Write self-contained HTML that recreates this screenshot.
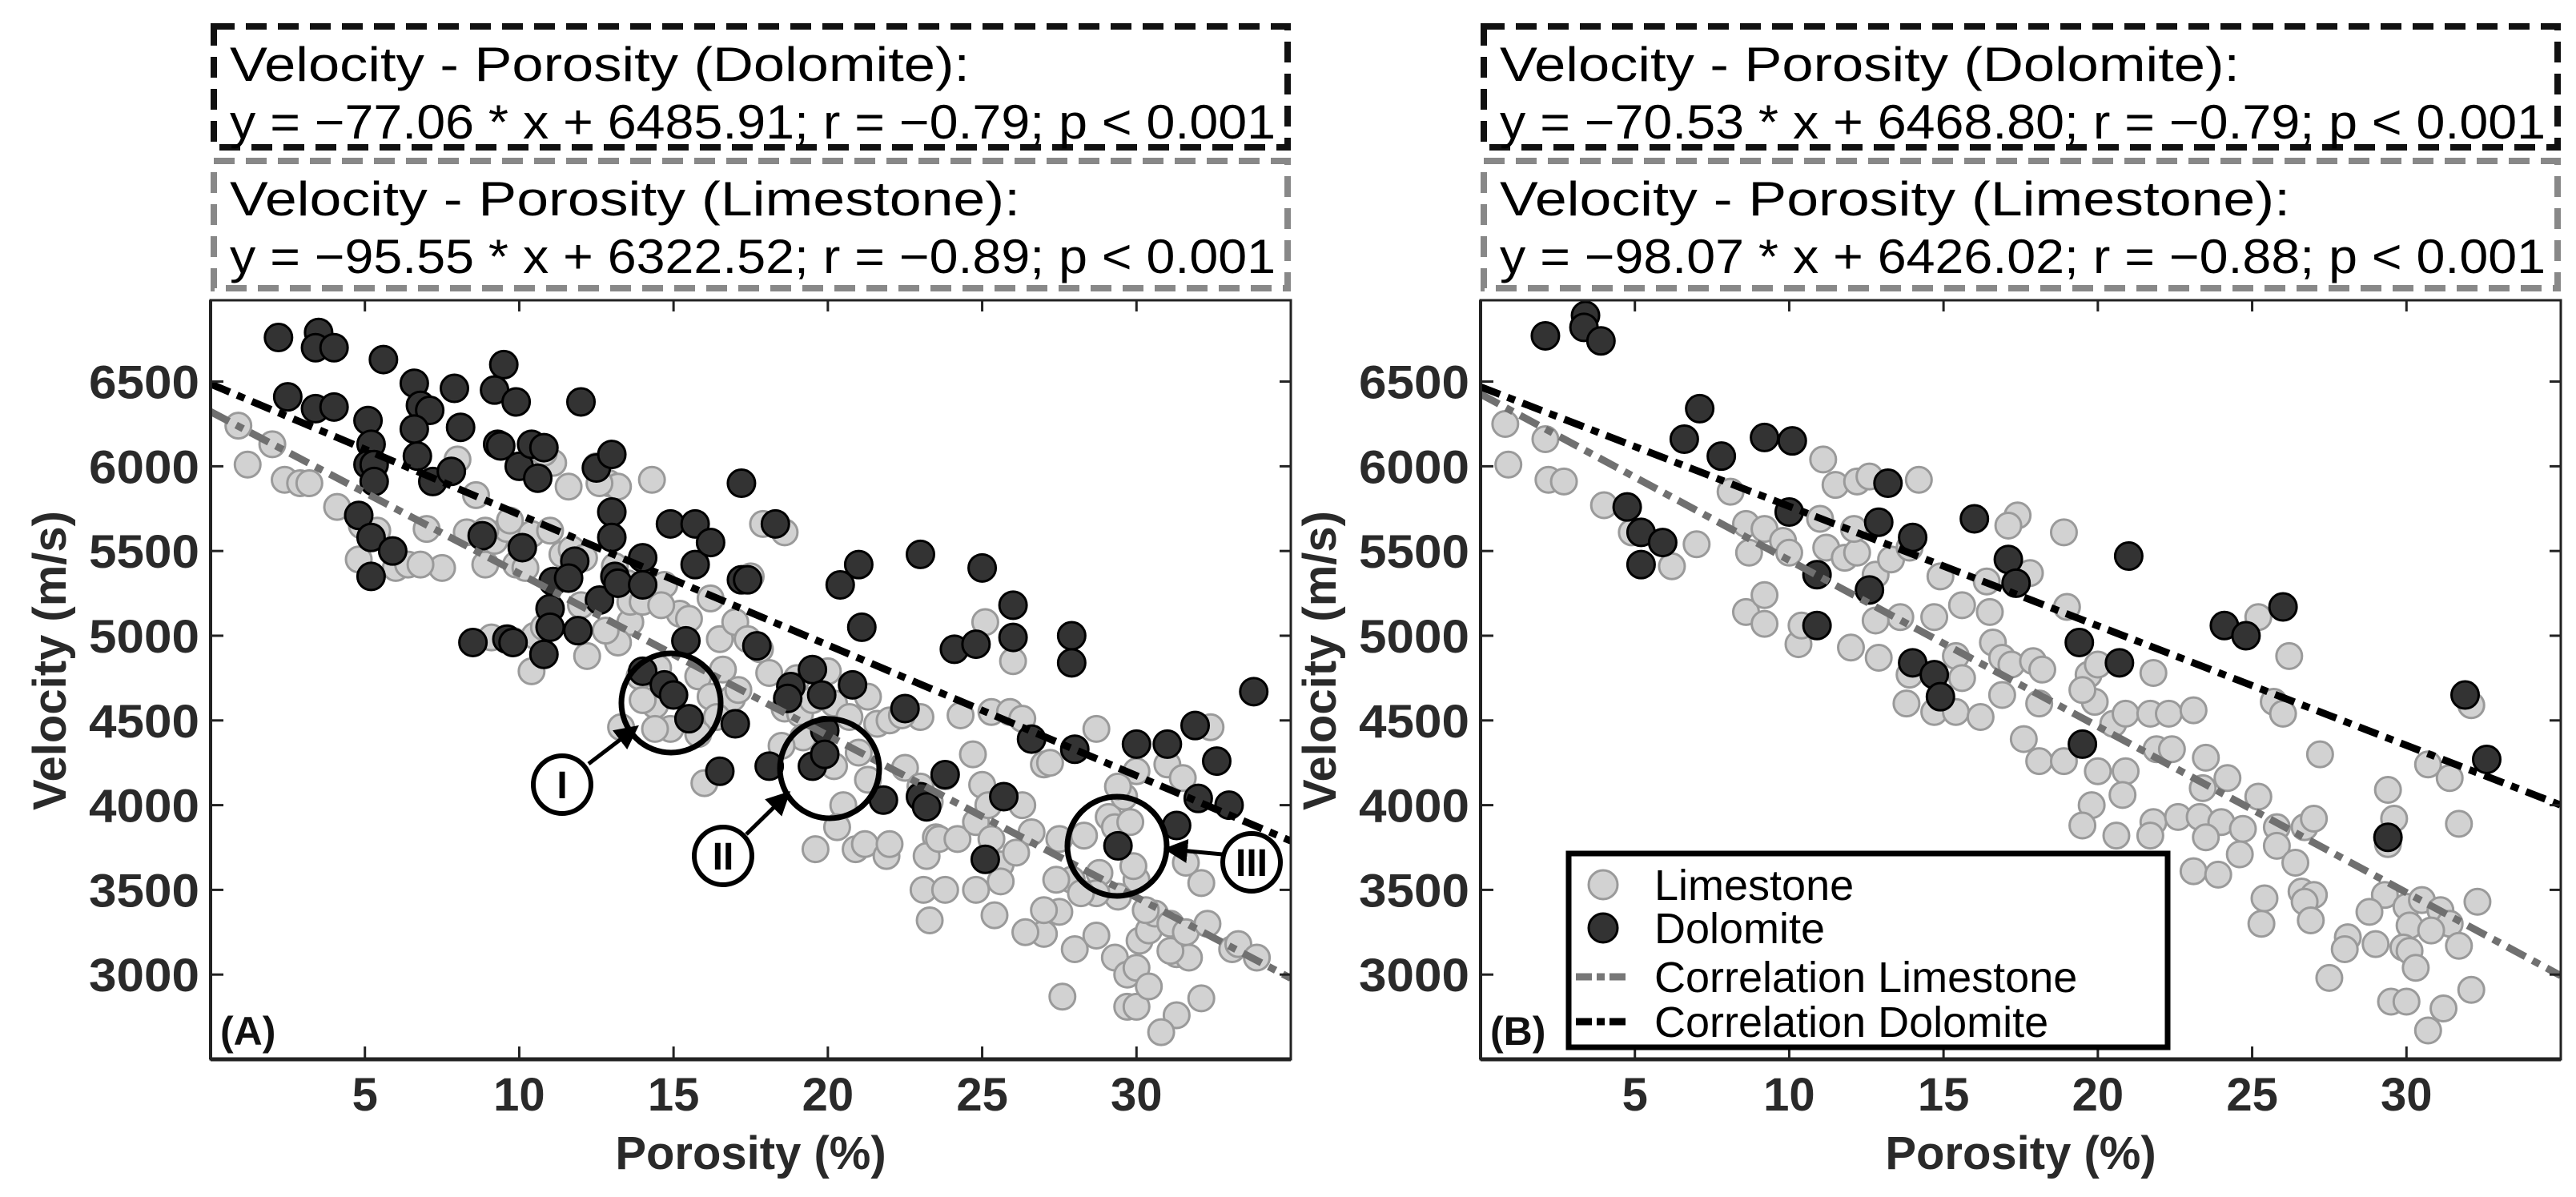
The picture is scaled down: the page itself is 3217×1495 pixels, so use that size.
<!DOCTYPE html>
<html><head><meta charset="utf-8"><style>
html,body{margin:0;padding:0;background:#fff;}
svg{display:block;font-family:"Liberation Sans",Arial,sans-serif;}
</style></head><body>
<svg id="fig" width="3217" height="1495" viewBox="0 0 3217 1495" xmlns="http://www.w3.org/2000/svg"></svg>
<script>
// ---------- DATA ----------
const xTicks = [5,10,15,20,25,30];
const yTicks = [3000,3500,4000,4500,5000,5500,6000,6500];
const fitA = {dolSlope:-77.06, dolInt:6485.91, limSlope:-95.55, limInt:6322.52};
const fitB = {dolSlope:-70.53, dolInt:6468.80, limSlope:-98.07, limInt:6426.02};
const textA = ["Velocity - Porosity (Dolomite):","y = \u221277.06 * x + 6485.91; r = \u22120.79; p < 0.001","Velocity - Porosity (Limestone):","y = \u221295.55 * x + 6322.52; r = \u22120.89; p < 0.001"];
const textB = ["Velocity - Porosity (Dolomite):","y = \u221270.53 * x + 6468.80; r = \u22120.79; p < 0.001","Velocity - Porosity (Limestone):","y = \u221298.07 * x + 6426.02; r = \u22120.88; p < 0.001"];

const dolA = [[2.2,6760],[3.5,6790],[3.4,6700],[4.0,6700],[2.5,6410],[3.4,6340],[4.0,6350],[5.6,6630],[5.1,6270],[5.2,6130],[5.1,6010],[5.3,6010],[5.3,5910],[4.8,5710],[5.2,5580],[5.2,5350],[5.9,5500],[6.6,6490],[6.8,6360],[7.1,6330],[6.6,6220],[6.7,6060],[7.2,5910],[7.9,6460],[8.1,6230],[7.8,5970],[9.5,6600],[9.2,6450],[9.3,6130],[9.9,6380],[10.0,6000],[10.4,6130],[10.8,6110],[10.6,5930],[9.4,6120],[8.8,5590],[10.1,5520],[8.5,4960],[9.6,4980],[9.8,4960],[10.8,4890],[11.1,5320],[11.0,5160],[11.0,5050],[11.8,5440],[11.6,5340],[11.9,5030],[12.0,6380],[12.5,5990],[13.0,6070],[13.0,5730],[13.0,5580],[13.1,5350],[12.6,5210],[13.2,5310],[14.0,5460],[14.0,5300],[14.0,4790],[14.9,5660],[15.7,5660],[15.7,5420],[16.2,5550],[14.7,4710],[15.0,4650],[15.4,4970],[15.5,4510],[17.2,5900],[17.2,5330],[17.4,5330],[17.7,4940],[18.3,5660],[16.5,4200],[17.0,4480],[18.1,4230],[19.5,4800],[19.5,4230],[19.8,4650],[19.9,4440],[19.9,4300],[18.8,4700],[18.7,4630],[20.8,4710],[20.4,5300],[21.0,5420],[21.1,5050],[22.5,4570],[21.8,4030],[23.0,5480],[23.0,4050],[23.8,4180],[24.1,4920],[24.8,4950],[25.0,5400],[26.0,5180],[26.0,4990],[25.7,4050],[25.1,3680],[26.6,4390],[27.9,5000],[27.9,4840],[28.0,4330],[30.0,4360],[31.0,4360],[31.9,4470],[32.0,4040],[32.6,4260],[33.0,4000],[33.8,4670],[31.3,3880],[29.4,3760],[23.2,3990]];
const limA = [[0.9,6240],[1.2,6010],[2.0,6130],[2.4,5920],[2.9,5900],[3.2,5900],[4.1,5760],[4.9,5650],[4.8,5450],[6.0,5400],[5.4,5620],[6.4,5420],[7.0,5630],[7.5,5400],[8.3,5610],[8.9,5420],[9.2,5560],[8.0,6040],[8.6,5830],[9.6,5630],[9.9,5420],[9.7,5680],[10.2,5400],[10.4,5600],[10.5,5000],[10.4,4790],[9.8,4970],[11.0,5620],[11.4,5480],[11.7,5510],[12.1,5460],[12.0,5180],[12.2,4880],[11.6,5880],[12.9,5900],[13.2,5880],[12.6,5900],[14.3,5920],[12.5,6000],[11.1,6020],[10.8,6080],[13.5,5310],[13.1,5410],[13.6,5080],[13.6,5200],[13.2,4960],[12.8,5030],[13.9,4760],[14.4,4590],[14.5,4810],[14.0,5200],[14.7,5300],[15.2,5130],[15.5,5100],[16.2,5220],[16.5,4980],[17.0,5080],[16.6,4800],[15.8,4760],[16.2,4640],[16.9,4630],[16.4,4520],[15.8,4420],[14.9,4450],[14.4,4450],[17.1,4680],[17.4,4980],[17.8,4920],[18.1,4780],[18.6,4570],[19.1,4540],[19.5,4620],[20.2,4600],[20.0,4790],[19.0,4750],[20.7,4520],[21.0,4310],[21.3,4640],[21.6,4480],[22.0,4500],[21.3,4150],[20.5,4000],[20.3,3870],[19.6,3740],[20.9,3740],[21.2,3770],[21.9,3700],[22.0,3770],[22.5,4220],[23.0,4110],[23.3,4020],[23.5,3810],[23.2,3700],[23.6,3800],[23.8,4170],[24.2,3800],[24.8,3900],[25.0,4120],[25.2,4000],[25.3,3800],[25.6,3650],[24.8,3500],[23.1,3500],[23.3,3320],[23.8,3500],[25.4,3350],[25.6,3550],[26.1,3720],[26.3,4000],[26.6,3840],[25.3,4550],[25.9,4550],[26.3,4510],[27.0,4240],[27.2,4250],[26.0,4850],[24.7,4300],[25.1,5080],[27.5,3800],[27.9,3560],[28.3,3820],[28.8,3600],[29.1,3930],[29.3,3870],[29.6,4050],[29.8,3900],[30.0,3560],[29.9,3640],[29.4,3460],[28.7,3480],[28.2,3480],[27.4,3560],[27.0,3240],[27.5,3370],[27.0,3380],[26.4,3250],[28.0,3150],[28.7,3230],[29.3,3100],[29.7,3000],[30.0,3040],[30.1,3200],[30.4,3260],[30.6,3360],[31.1,3300],[30.3,3380],[31.3,3120],[31.7,3100],[31.1,3140],[31.6,3250],[32.1,3540],[32.3,3300],[33.1,3150],[33.3,3180],[33.9,3100],[32.1,2860],[31.3,2760],[30.8,2660],[29.7,2810],[30.0,2810],[30.4,2930],[27.6,2870],[30.0,4200],[31.0,4240],[31.5,4160],[31.6,3660],[32.4,4460],[29.4,4110],[28.7,4450],[24.3,4530],[23.0,4520],[22.4,4530],[20.2,4230],[19.2,4400],[18.5,4350],[18.1,4230],[14.6,5180],[13.3,4460],[14.0,4620],[16.0,4130],[17.9,5660],[18.6,5610],[17.5,5350],[10.8,5050],[9.1,4990],[8.9,5620],[6.8,5420]];
const dolB = [[2.1,6770],[3.4,6890],[3.35,6820],[3.9,6740],[7.1,6340],[6.6,6160],[7.8,6060],[9.2,6170],[10.1,6150],[13.2,5900],[4.75,5760],[5.2,5610],[5.9,5550],[5.2,5420],[10.0,5730],[12.9,5670],[14.0,5580],[16.0,5690],[17.1,5450],[17.35,5310],[10.9,5360],[12.6,5270],[21.0,5470],[10.9,5060],[19.4,4960],[20.7,4840],[14.0,4840],[14.7,4770],[14.9,4640],[19.5,4360],[24.1,5060],[24.8,5000],[26.0,5170],[31.9,4650],[32.6,4270],[29.4,3810]];
const limB = [[0.8,6250],[0.9,6010],[2.1,6160],[2.2,5920],[2.7,5910],[4.0,5770],[4.9,5610],[6.2,5410],[7.0,5540],[8.7,5490],[8.6,5140],[9.2,5070],[9.2,5240],[10.3,4950],[10.4,5060],[11.1,6040],[11.5,5890],[12.2,5910],[12.6,5940],[14.2,5920],[8.1,5850],[8.6,5660],[9.2,5630],[9.8,5560],[10.0,5490],[11.0,5690],[11.2,5520],[11.8,5460],[12.2,5490],[12.8,5360],[13.3,5450],[13.9,5520],[12.1,5630],[14.9,5350],[16.4,5320],[15.6,5180],[16.5,5140],[14.7,5110],[13.6,5110],[12.8,5090],[12.9,4870],[12.0,4930],[13.9,4770],[13.8,4600],[14.7,4550],[15.4,4550],[16.2,4520],[15.4,4880],[15.6,4750],[16.6,4960],[16.9,4870],[16.9,4650],[17.2,4830],[18.1,4600],[17.9,4850],[18.2,4800],[17.4,5710],[17.1,5650],[18.9,5610],[17.8,5370],[19.0,5170],[19.7,4770],[19.9,4610],[20.5,4480],[20.9,4540],[21.7,4540],[22.3,4540],[21.8,4780],[23.1,4560],[19.5,4680],[20.0,4830],[17.6,4390],[18.1,4260],[18.9,4260],[20.0,4200],[20.9,4200],[21.9,4330],[22.4,4330],[23.5,4280],[24.2,4160],[23.4,4100],[20.8,4060],[19.8,4000],[19.5,3880],[20.6,3820],[21.8,3900],[21.7,3820],[22.6,3930],[23.3,3930],[24.0,3900],[23.5,3810],[24.7,3860],[24.6,3710],[25.2,4050],[25.8,3870],[25.8,3760],[26.4,3660],[26.7,3870],[27.0,3920],[23.1,3610],[23.9,3590],[26.2,4880],[25.2,5110],[27.2,4300],[25.7,4610],[26.0,4540],[25.4,3450],[25.3,3300],[26.6,3490],[27.0,3470],[26.7,3430],[26.9,3320],[28.1,3220],[28.0,3150],[29.0,3180],[27.5,2980],[29.3,3470],[28.8,3370],[30.0,3400],[30.5,3440],[31.1,3380],[31.4,3300],[30.1,3290],[30.8,3260],[29.9,3160],[30.1,3140],[30.3,3040],[31.7,3170],[32.3,3430],[29.5,2840],[30.0,2840],[31.2,2800],[32.1,2910],[30.7,2670],[29.4,4090],[29.6,3920],[29.4,3770],[30.7,4240],[31.4,4160],[31.7,3890],[32.1,4590]];

// ---------- DRAW ----------
const NS = "http://www.w3.org/2000/svg";
const svg = document.getElementById('fig');
function mk(tag, attrs, parent){ const e=document.createElementNS(NS,tag); for(const k in attrs) e.setAttribute(k,attrs[k]); (parent||svg).appendChild(e); return e; }

const X0=0, X1=35, Y0=2500, Y1=6980;
const TOP=375, BOT=1323;

function panel(id, L, R, dol, lim, fit, texts, letter, withLegend){
  const g = mk('g',{});
  
  
  const sx = v => L + (v-X0)/(X1-X0)*(R-L);
  const sy = v => BOT - (v-Y0)/(Y1-Y0)*(BOT-TOP);

  const boxes = [[29,188,'#111',texts[0],texts[1],924,'dolomite-equation-box'],[197,364,'#888',texts[2],texts[3],987,'limestone-equation-box']];
  boxes.forEach(b=>{
    const bg = mk('g',{},g);
    
    
    mk('rect',{x:L+4,y:b[0]+4,width:R-L-8,height:b[1]-b[0]-8,fill:'none',stroke:b[2],'stroke-width':8,'stroke-dasharray':'26,14'},bg);
    const t1 = mk('text',{x:L+24,y:b[0]+72,'font-size':60,fill:'#000',textLength:b[5],lengthAdjust:'spacingAndGlyphs'},bg);
    t1.textContent=b[3];
    const t2 = mk('text',{x:L+24,y:b[0]+144,'font-size':60,fill:'#000',textLength:1306,lengthAdjust:'spacingAndGlyphs'},bg);
    t2.textContent=b[4];
  });

  const cp = mk('clipPath',{id:'clip'+id},g);
  mk('rect',{x:L,y:TOP,width:R-L,height:BOT-TOP},cp);
  const pg = mk('g',{'clip-path':'url(#clip'+id+')'},g);

  lim.forEach(p=>{
    const c = mk('circle',{cx:sx(p[0]),cy:sy(p[1]),r:16,fill:'#d2d2d2',stroke:'#9a9a9a','stroke-width':3},pg);
    
    
  });
  dol.forEach(p=>{
    const c = mk('circle',{cx:sx(p[0]),cy:sy(p[1]),r:17,fill:'#333',stroke:'#000','stroke-width':3},pg);
    
    
  });
  const ll = mk('line',{x1:sx(X0),y1:sy(fit.limInt+fit.limSlope*X0),x2:sx(X1),y2:sy(fit.limInt+fit.limSlope*X1),stroke:'#707070','stroke-width':9,'stroke-dasharray':'26,10,10,10'},pg);
  
  
  const dl = mk('line',{x1:sx(X0),y1:sy(fit.dolInt+fit.dolSlope*X0),x2:sx(X1),y2:sy(fit.dolInt+fit.dolSlope*X1),stroke:'#000','stroke-width':9,'stroke-dasharray':'26,10,10,10'},pg);
  
  

  const fr = mk('rect',{x:L,y:TOP,width:R-L,height:BOT-TOP,fill:'none',stroke:'#222','stroke-width':3},g);
  
  
  mk('line',{x1:L,y1:BOT,x2:R,y2:BOT,stroke:'#222','stroke-width':5},g);
  mk('line',{x1:L,y1:TOP,x2:L,y2:BOT,stroke:'#222','stroke-width':4},g);

  xTicks.forEach(v=>{
    mk('line',{x1:sx(v),y1:BOT,x2:sx(v),y2:BOT-16,stroke:'#222','stroke-width':3},g);
    mk('line',{x1:sx(v),y1:TOP,x2:sx(v),y2:TOP+14,stroke:'#222','stroke-width':3},g);
    const t = mk('text',{x:sx(v),y:1387,'font-size':58,'font-weight':'bold','text-anchor':'middle',fill:'#2a2a2a'},g);
    
    
    t.textContent=v;
  });
  yTicks.forEach(v=>{
    mk('line',{x1:L,y1:sy(v),x2:L+16,y2:sy(v),stroke:'#222','stroke-width':3},g);
    mk('line',{x1:R,y1:sy(v),x2:R-14,y2:sy(v),stroke:'#222','stroke-width':3},g);
    const t = mk('text',{x:L-14,y:sy(v)+21,'font-size':58,'font-weight':'bold','text-anchor':'end',fill:'#2a2a2a',textLength:138,lengthAdjust:'spacingAndGlyphs'},g);
    
    
    t.textContent=v;
  });
  const xt = mk('text',{x:(L+R)/2,y:1460,'font-size':58,'font-weight':'bold','text-anchor':'middle',fill:'#2a2a2a'},g);
  
  
  xt.textContent='Porosity (%)';
  const yt = mk('text',{x:0,y:0,'font-size':58,'font-weight':'bold','text-anchor':'middle',fill:'#2a2a2a',transform:'translate('+(L-181)+',825) rotate(-90)'},g);
  
  
  yt.textContent='Velocity (m/s)';
  const pl = mk('text',{x:L+12,y:1305,'font-size':50,'font-weight':'bold',fill:'#111'},g);
  
  
  pl.textContent=letter;

  if(withLegend){
    const lg = mk('g',{},g);
    
    
    mk('rect',{x:1959,y:1066,width:748,height:242,fill:'#fff',stroke:'#000','stroke-width':7},lg);
    const rows=[1105,1159,1220,1276];
    const names=['Limestone','Dolomite','Correlation Limestone','Correlation Dolomite'];
    mk('circle',{cx:2002,cy:rows[0],r:18,fill:'#d2d2d2',stroke:'#9a9a9a','stroke-width':3},lg);
    mk('circle',{cx:2002,cy:rows[1],r:18,fill:'#333',stroke:'#000','stroke-width':3},lg);
    mk('line',{x1:1968,y1:rows[2],x2:2033,y2:rows[2],stroke:'#777','stroke-width':9,'stroke-dasharray':'20,6,10,6'},lg);
    mk('line',{x1:1968,y1:rows[3],x2:2033,y2:rows[3],stroke:'#000','stroke-width':9,'stroke-dasharray':'20,6,10,6'},lg);
    names.forEach((n,i)=>{
      const t = mk('text',{x:2066,y:rows[i]+19,'font-size':54,fill:'#000'},lg);
      
      
      t.textContent=n;
    });
  }
  return g;
}

panel('a',263,1612,dolA,limA,fitA,textA,'(A)',false);
panel('b',1849,3198,dolB,limB,fitB,textB,'(B)',true);

const ann = mk('g',{});


mk('defs',{},ann).innerHTML='<marker id="ah" markerWidth="6" markerHeight="6" refX="4" refY="3" orient="auto"><path d="M0,0 L6,3 L0,6 z" fill="#000"/></marker>';
[[838,878],[1036,960],[1395,1057]].forEach(c=>{ mk('circle',{cx:c[0],cy:c[1],r:62,fill:'none',stroke:'#000','stroke-width':7},ann); });
const labels=[['I',702,980],['II',903,1069],['III',1563,1077]];
labels.forEach(l=>{
  mk('circle',{cx:l[1],cy:l[2],r:36,fill:'#fff',stroke:'#000','stroke-width':6},ann);
  const t = mk('text',{x:l[1],y:l[2]+17,'font-size':48,'font-weight':'bold','text-anchor':'middle',fill:'#000'},ann);
  
  
  t.textContent=l[0];
});
[[735,954,790,912],[932,1042,980,995],[1526,1067,1463,1061]].forEach(a=>{
  mk('line',{x1:a[0],y1:a[1],x2:a[2],y2:a[3],stroke:'#000','stroke-width':5,'marker-end':'url(#ah)'},ann);
});
</script>
</body></html>
